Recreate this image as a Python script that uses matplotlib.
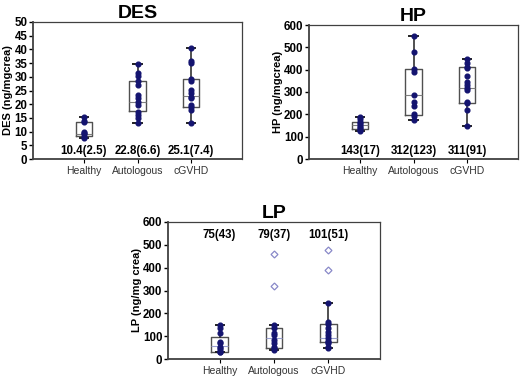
import matplotlib
matplotlib.use('Agg')
import matplotlib.pyplot as plt

plt.rcParams['font.family'] = ['Liberation Sans', 'DejaVu Sans']

groups = ['Healthy', 'Autologous', 'cGVHD']

# DES (ng/mgcrea)
des_points = [[15.2, 14.0, 13.5, 10.0, 9.4, 9.0, 8.2, 7.8],
              [34.6, 31.3, 30.4, 28.3, 27.1, 23.4, 22.2, 20.7, 19.8, 17.3, 16.1, 15.1, 13.2],
              [40.5, 35.9, 35.0, 29.1, 28.3, 25.2, 24.0, 22.8, 22.2, 19.8, 18.8, 17.9, 13.3]]
des_box = [(7.8, 8.4, 9.2, 13.5, 15.2), (13.2, 17.5, 20.8, 28.5, 34.6), (13.3, 18.9, 22.9, 29.3, 40.5)]
des_text = ['10.4(2.5)', '22.8(6.6)', '25.1(7.4)']

# HP (ng/mgcrea)
hp_points = [[188, 178, 167, 160, 152, 145, 138, 130, 124],
             [551, 478, 403, 391, 287, 254, 239, 200, 193, 175],
             [446, 428, 413, 406, 373, 346, 331, 319, 309, 254, 249, 219, 148]]
hp_box = [(124, 133, 152, 167, 188), (175, 197, 285, 402, 551), (148, 249, 319, 414, 446)]
hp_text = ['143(17)', '312(123)', '311(91)']

# LP (ng/mg crea)
lp_points = [[149, 135, 113, 76, 69, 54, 47, 40, 32, 29],
             [149, 135, 113, 105, 83, 69, 54, 47, 40],
             [245, 164, 152, 135, 120, 105, 94, 79, 73, 69, 54, 47]]
lp_box = [(29, 29, 59, 98, 149), (40, 47, 91, 135, 149), (47, 73, 94, 152, 245)]
lp_outliers = [[], [460, 321], [479, 391]]
lp_text = ['75(43)', '79(37)', '101(51)']

W, H = 520, 376
fig = plt.figure(figsize=(W / 100, H / 100), dpi=100)
fig.patch.set_facecolor('white')


def panel(rect, title, ylabel, points, box, text, text_y, ymax, ystep,
          outliers=None, median_color='#808080'):
    l, t, r, b = rect
    ax = fig.add_axes([l / W, 1 - b / H, (r - l) / W, (b - t) / H])
    stats = []
    for i, (lo, q1, med, q3, hi) in enumerate(box):
        stats.append(dict(whislo=lo, q1=q1, med=med, q3=q3, whishi=hi,
                          fliers=(outliers[i] if outliers else [])))
    ax.bxp(stats, positions=[1, 2, 3], widths=0.3, showfliers=True,
           boxprops=dict(color='#505050', lw=1.0),
           whiskerprops=dict(color='#202020', lw=1.1),
           capprops=dict(color='#202020', lw=1.4),
           medianprops=dict(color=median_color, lw=0.8),
           flierprops=dict(marker='D', markersize=3.5, markerfacecolor='white',
                           markeredgecolor='#8888c8', markeredgewidth=0.9))
    for i, pts in enumerate(points):
        ax.plot([i + 1] * len(pts), pts, 'o', color='#141470', markersize=3.4,
                zorder=3)
    for i, s in enumerate(text):
        ax.text(i + 1, text_y, s, ha='center', va='center', fontsize=8.3,
                fontweight='bold')
    ax.set_xlim(0.05, 3.95)
    ax.set_ylim(0, ymax)
    ax.set_yticks(range(0, ymax + 1, ystep))
    ax.set_xticks([1, 2, 3])
    ax.set_xticklabels(groups, fontsize=7.5, color='#333333')
    for lab in ax.get_yticklabels():
        lab.set_fontweight('bold')
        lab.set_fontsize(8.3)
    ax.tick_params(axis='y', length=3, width=1, pad=1)
    ax.tick_params(axis='x', length=3, width=0.8, pad=2)
    for sp in ax.spines.values():
        sp.set_color('#404040')
        sp.set_linewidth(0.9)
    ax.spines['left'].set_linewidth(1.3)
    ax.spines['bottom'].set_linewidth(1.3)
    ax.set_ylabel(ylabel, fontsize=8, fontweight='bold', labelpad=1)
    ax.set_title(title, fontsize=14, fontweight='bold', pad=3)
    return ax


panel((33, 22, 242, 159), 'DES', 'DES (ng/mgcrea)', des_points, des_box,
      des_text, 2.8, 50, 5)
panel((309, 25, 518, 159), 'HP', 'HP (ng/mgcrea)', hp_points, hp_box,
      hp_text, 36, 600, 100)
panel((168, 222, 380, 359), 'LP', 'LP (ng/mg crea)', lp_points, lp_box,
      lp_text, 545, 600, 100, outliers=lp_outliers, median_color='#9aa0d0')

fig.savefig('out.png', dpi=100)
